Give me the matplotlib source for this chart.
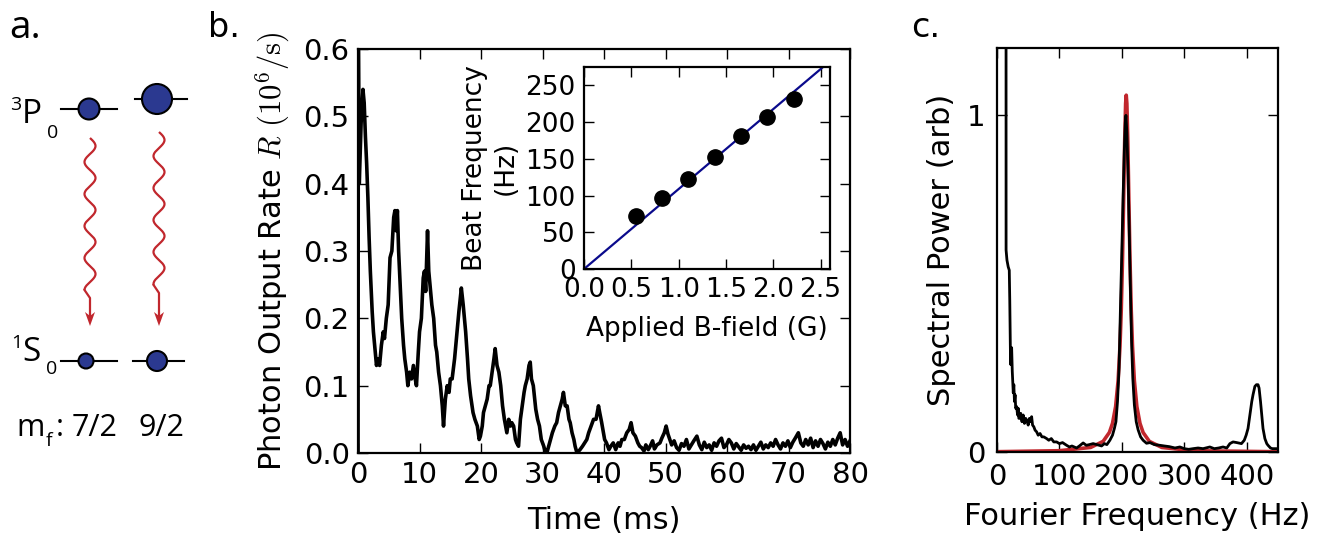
import matplotlib

matplotlib.use("Agg")
import matplotlib.pyplot as plt
import numpy as np
from matplotlib.patches import Circle, Polygon


# panel b: photon output rate trace (ms, 10^6/s)
TIME_MS = [
    0.0, 0.05, 0.2, 0.5, 0.8, 1.0, 1.2, 1.4, 1.6, 1.8, 2.0, 2.3, 2.5, 2.8, 3.0,
    3.2, 3.5, 3.8, 4.1, 4.3, 4.6, 4.9, 5.2, 5.5, 5.8, 6.0, 6.2, 6.4, 6.6, 6.9,
    7.1, 7.4, 7.6, 7.9, 8.1, 8.4, 8.7, 9.0, 9.3, 9.5, 9.8, 10.0, 10.3, 10.6, 10.8,
    11.0, 11.3, 11.5, 11.7, 12.0, 12.3, 12.6, 12.8, 13.1, 13.4, 13.7, 13.9, 14.2,
    14.5, 14.8, 15.0, 15.3, 15.7, 16.1, 16.4, 16.8, 17.1, 17.5, 17.8, 18.0, 18.3,
    18.7, 19.0, 19.4, 19.7, 19.9, 20.2, 20.4, 20.7, 21.0, 21.3, 21.5, 21.8, 22.1,
    22.3, 22.6, 22.9, 23.2, 23.5, 23.8, 24.0, 24.2, 24.5, 24.8, 25.0, 25.3, 25.6,
    25.8, 26.1, 26.4, 26.7, 27.0, 27.2, 27.5, 27.8, 28.0, 28.2, 28.5, 28.9, 29.2,
    29.5, 29.8, 30.2, 30.5, 30.7, 31.0, 31.3, 31.6, 32.0, 32.3, 32.6, 32.9, 33.2,
    33.4, 33.7, 34.0, 34.3, 34.5, 34.8, 35.1, 35.3, 35.6, 36.1, 36.5, 37.2, 37.5,
    37.9, 38.3, 38.7, 39.1, 39.3, 39.6, 39.9, 40.1, 40.4, 40.8, 41.1, 41.5, 41.9,
    42.3, 42.6, 42.9, 43.3, 43.7, 44.1, 44.4, 44.7, 45.1, 45.5, 45.8, 46.1, 46.5,
    46.8, 47.2, 47.5, 47.9, 48.2, 48.6, 49.1, 49.4, 49.8, 50.1, 50.4, 50.7, 51.0,
    51.4, 51.8, 52.2, 52.6, 53.0, 53.4, 53.8, 54.2, 54.6, 55.1, 55.5, 55.9, 56.3,
    56.7, 57.1, 57.5, 57.9, 58.3, 58.7, 59.1, 59.5, 59.9, 60.3, 60.7, 61.1, 61.5,
    61.9, 62.3, 62.7, 63.1, 63.5, 63.9, 64.3, 64.7, 65.1, 65.5, 65.9, 66.3, 66.7,
    67.1, 67.5, 67.9, 68.3, 68.7, 69.1, 69.5, 69.9, 70.3, 70.7, 71.1, 71.6, 72.0,
    72.4, 72.8, 73.2, 73.6, 74.0, 74.4, 74.8, 75.2, 75.6, 76.0, 76.4, 76.8, 77.2,
    77.6, 78.0, 78.4, 78.8, 79.2, 79.6, 80.0,
]
RATE = [
    0.00, 0.62, 0.40, 0.49, 0.54, 0.52, 0.47, 0.43, 0.38, 0.32, 0.27, 0.21, 0.18, 0.15, 0.13,
    0.14, 0.13, 0.16, 0.18, 0.17, 0.20, 0.22, 0.29, 0.30, 0.35, 0.36, 0.33, 0.36, 0.30, 0.24,
    0.20, 0.16, 0.14, 0.12, 0.10, 0.12, 0.11, 0.13, 0.11, 0.10, 0.15, 0.18, 0.20, 0.26, 0.27,
    0.24, 0.33, 0.27, 0.25, 0.22, 0.20, 0.16, 0.15, 0.12, 0.10, 0.07, 0.04, 0.08,
    0.10, 0.09, 0.11, 0.11, 0.14, 0.18, 0.21, 0.245, 0.22, 0.18, 0.14, 0.11, 0.085,
    0.06, 0.05, 0.04, 0.02, 0.025, 0.04, 0.06, 0.07, 0.08, 0.10, 0.10, 0.12, 0.14,
    0.155, 0.13, 0.12, 0.10, 0.07, 0.05, 0.04, 0.03, 0.05, 0.04, 0.045, 0.04, 0.02,
    0.015, 0.01, 0.05, 0.07, 0.09, 0.10, 0.11, 0.13, 0.135, 0.11, 0.10, 0.065, 0.05,
    0.04, 0.02, 0.01, 0.0, 0.0, 0.01, 0.02, 0.03, 0.04, 0.045, 0.06, 0.07, 0.08,
    0.09, 0.07, 0.07, 0.05, 0.045, 0.03, 0.02, 0.01, 0.0, 0.005, 0.01, 0.02, 0.03,
    0.04, 0.05, 0.05, 0.07, 0.06, 0.046, 0.03, 0.02, 0.015, 0.005, 0.01, 0.015, 0.005,
    0.015, 0.01, 0.02, 0.02, 0.03, 0.035, 0.045, 0.03, 0.025, 0.015, 0.01, 0.008, 0.003,
    0.012, 0.005, 0.01, 0.018, 0.006, 0.012, 0.015, 0.022, 0.03, 0.04, 0.028, 0.02, 0.012,
    0.018, 0.008, 0.004, 0.014, 0.01, 0.02, 0.006, 0.012, 0.018, 0.025, 0.012, 0.005, 0.016,
    0.008, 0.012, 0.004, 0.015, 0.01, 0.018, 0.022, 0.008, 0.012, 0.02, 0.015, 0.006, 0.014,
    0.009, 0.004, 0.012, 0.007, 0.01, 0.005, 0.012, 0.004, 0.01, 0.016, 0.006, 0.012, 0.008,
    0.015, 0.01, 0.02, 0.012, 0.006, 0.015, 0.01, 0.018, 0.008, 0.016, 0.022, 0.03, 0.015,
    0.01, 0.02, 0.012, 0.022, 0.008, 0.018, 0.01, 0.02, 0.014, 0.006, 0.016, 0.01, 0.02,
    0.012, 0.022, 0.03, 0.012, 0.02, 0.01, 0.018,
]

# inset: beat frequency vs applied field
FIELD_G = [0.553, 0.828, 1.098, 1.38, 1.655, 1.936, 2.214]
BEAT_HZ = [72, 96, 123, 153, 181, 207, 232]
FIT_FIELD_G = [0.0, 2.6]
FIT_BEAT_HZ = [0.0, 283.0]

# panel c: spectrum
FREQ_HZ = [
    14.4, 14.6, 16, 18, 19.7, 20.5, 21.5, 22, 22.5, 23.5, 24.5, 26.1, 27, 28, 29, 30,
    31.5, 33, 34, 35, 36.8, 38, 40, 42, 44, 46, 47.5, 50, 52, 54, 55.5, 57, 59, 61,
    63.5, 66, 69, 72, 75, 79.5, 83, 87, 91, 95.5, 100, 105, 111.5, 116, 120, 127.5,
    132, 138, 143, 148, 154, 160, 167.5, 172, 176, 180.8, 185, 188, 190.5, 193,
    195.5, 198, 200, 202, 204, 205.5, 206.5, 208, 210, 212, 213.5, 215.5, 217.5,
    220, 223, 226, 230, 234, 239.5, 245, 252, 260.8, 268, 276, 285, 292.8, 300, 307,
    314, 322, 330, 340.8, 348, 355, 362, 368, 373, 378, 384, 391.5, 396, 399, 402,
    405, 408, 410, 413, 415.5, 418, 419.7, 422, 424, 426, 429, 432, 434, 438, 441,
    444.8, 450,
]
POWER = [
    3.0, 0.60, 0.57, 0.55, 0.54, 0.45, 0.30, 0.26, 0.30, 0.31, 0.24, 0.176, 0.20, 0.15, 0.17, 0.13,
    0.135, 0.11, 0.13, 0.10, 0.10, 0.115, 0.09, 0.11, 0.085, 0.10, 0.095, 0.08, 0.10, 0.09, 0.105, 0.08, 0.075, 0.065,
    0.06, 0.05, 0.055, 0.045, 0.045, 0.04, 0.035, 0.04, 0.03, 0.03, 0.025, 0.028, 0.02, 0.015, 0.018, 0.012,
    0.018, 0.027, 0.02, 0.022, 0.025, 0.022, 0.018, 0.025, 0.022, 0.035, 0.05, 0.07, 0.09, 0.15,
    0.25, 0.45, 0.60, 0.76, 0.90, 0.98, 1.0, 0.95, 0.82, 0.64, 0.50, 0.33, 0.22,
    0.14, 0.09, 0.066, 0.045, 0.035, 0.026, 0.028, 0.022, 0.02, 0.018, 0.016, 0.012, 0.015, 0.01, 0.008,
    0.01, 0.012, 0.01, 0.015, 0.01, 0.012, 0.015, 0.012, 0.025, 0.03, 0.028, 0.025, 0.035, 0.05, 0.07,
    0.11, 0.15, 0.17, 0.195, 0.20, 0.20, 0.19, 0.15, 0.11, 0.07, 0.04, 0.025, 0.02, 0.012, 0.01,
    0.01, 0.01,
]
FIT_FREQ_HZ = [
    0, 100, 150, 170, 180, 185, 190, 194, 197, 199, 201, 203, 204.5, 206, 207,
    208, 209.5, 211, 213, 215, 217, 220, 224, 229, 234, 244, 264, 314, 450,
]
FIT_POWER = [
    0.001, 0.0039, 0.0136, 0.0317, 0.0581, 0.0851, 0.135, 0.212, 0.315, 0.421, 0.572, 0.769, 0.923, 1.035, 1.06,
    1.035, 0.923, 0.769, 0.572, 0.421, 0.315, 0.212, 0.135, 0.0851, 0.0581, 0.0317, 0.0136, 0.0039, 0.0008,
]

RED = "#c1272d"
BLUE = "#2b3990"


def style_axis(axis, labelsize, pad=6):
    axis.tick_params(direction="in", top=True, right=True, length=7, width=1,
                     labelsize=labelsize, pad=pad)
    for spine in axis.spines.values():
        spine.set_linewidth(1.6)


def wavy_arrow(axis, x_center, y_start, y_wave_end, y_tip):
    y = np.linspace(y_start, y_wave_end, 200)
    x = x_center + 5.5 * np.sin(2 * np.pi * (y - y_start) / 32.0)
    axis.plot(x, y, color=RED, linewidth=1.6, solid_capstyle="butt")
    axis.plot([x[-1], x_center, x_center], [y_wave_end, y_wave_end + 8, y_tip - 8],
              color=RED, linewidth=1.6)
    axis.add_patch(Polygon([(x_center - 5, y_tip - 14), (x_center, y_tip),
                            (x_center + 5, y_tip - 14), (x_center, y_tip - 10)],
                           closed=True, color=RED, linewidth=0))


def draw_level_diagram(axis):
    font = "Open Sans"
    levels = [
        (61, 117, 109, 89, 10.5),
        (135, 187, 99, 157, 15),
        (61, 117, 361, 86, 7.5),
        (133, 184, 361, 157, 10),
    ]
    for x_left, x_right, y_level, x_dot, radius in levels:
        axis.plot([x_left, x_right], [y_level, y_level], color="black", linewidth=1.5)
        axis.add_patch(Circle((x_dot, y_level), radius, facecolor=BLUE,
                              edgecolor="black", linewidth=1.5, zorder=3))

    wavy_arrow(axis, 90, 138, 290, 326)
    wavy_arrow(axis, 159, 132, 285, 326)

    axis.text(22, 123, "P", fontsize=24, family=font)
    axis.text(10, 110, "3", fontsize=14, family=font)
    axis.text(47, 138, "0", fontsize=14, family=font)
    axis.text(22, 361, "S", fontsize=24, family=font)
    axis.text(11, 348, "1", fontsize=14, family=font)
    axis.text(46, 374, "0", fontsize=14, family=font)
    axis.text(16, 436, "m", fontsize=22, family=font)
    axis.text(46, 446, "f", fontsize=14, family=font)
    axis.text(56, 436, ":", fontsize=22, family=font)
    axis.text(72, 436, "7/2", fontsize=22, family=font)
    axis.text(138, 436, "9/2", fontsize=22, family=font)


def main():
    plt.rcParams["font.family"] = "DejaVu Sans"
    plt.rcParams["mathtext.fontset"] = "cm"

    figure = plt.figure(figsize=(13.3, 5.35), dpi=100)

    overlay = figure.add_axes([0, 0, 1, 1])
    overlay.set_xlim(0, 1330)
    overlay.set_ylim(535, 0)
    overlay.axis("off")
    draw_level_diagram(overlay)
    overlay.text(9, 38, "a.", fontsize=28, family="Open Sans")
    overlay.text(208, 37, "b.", fontsize=24)
    overlay.text(911, 37, "c.", fontsize=24)

    # panel b
    trace_axis = figure.add_axes([0.2692, 0.1533, 0.3699, 0.7551])
    trace_axis.plot(TIME_MS, RATE, color="black", linewidth=2.6)
    trace_axis.set_xlim(0, 80)
    trace_axis.set_ylim(0, 0.6)
    trace_axis.set_xticks(np.arange(0, 81, 10))
    trace_axis.set_yticks(np.arange(0, 0.61, 0.1))
    trace_axis.set_xlabel("Time (ms)", fontsize=22, labelpad=12)
    trace_axis.set_ylabel(r"Photon Output Rate $R$ $(10^6/\mathrm{s})$", fontsize=22,
                          labelpad=8)
    style_axis(trace_axis, 21)

    inset = figure.add_axes([0.4391, 0.4972, 0.185, 0.3776])
    inset.plot(FIT_FIELD_G, FIT_BEAT_HZ, color="#0a0a8c", linewidth=1.6)
    inset.plot(FIELD_G, BEAT_HZ, "o", color="black", markersize=11)
    inset.set_xlim(0, 2.6)
    inset.set_ylim(0, 275)
    inset.set_xticks(np.arange(0, 2.51, 0.5))
    inset.set_yticks(np.arange(0, 251, 50))
    inset.set_xlabel("Applied B-field (G)", fontsize=19, labelpad=9)
    inset.set_ylabel("Beat Frequency\n(Hz)", fontsize=19, labelpad=5)
    style_axis(inset, 19)

    # panel c
    spectrum_axis = figure.add_axes([0.7496, 0.1551, 0.2113, 0.7551])
    spectrum_axis.plot(FIT_FREQ_HZ, FIT_POWER, color=RED, linewidth=2.6)
    spectrum_axis.plot(FREQ_HZ, POWER, color="black", linewidth=2.0)
    spectrum_axis.set_xlim(0, 450)
    spectrum_axis.set_ylim(0, 1.2)
    spectrum_axis.set_xticks(np.arange(0, 401, 100))
    spectrum_axis.set_yticks([0, 1])
    spectrum_axis.set_xlabel("Fourier Frequency (Hz)", fontsize=22, labelpad=8)
    spectrum_axis.set_ylabel("Spectral Power (arb)", fontsize=22, labelpad=8)
    style_axis(spectrum_axis, 21, pad=8)

    figure.savefig("out.png", dpi=100)
    plt.close(figure)


if __name__ == "__main__":
    main()
